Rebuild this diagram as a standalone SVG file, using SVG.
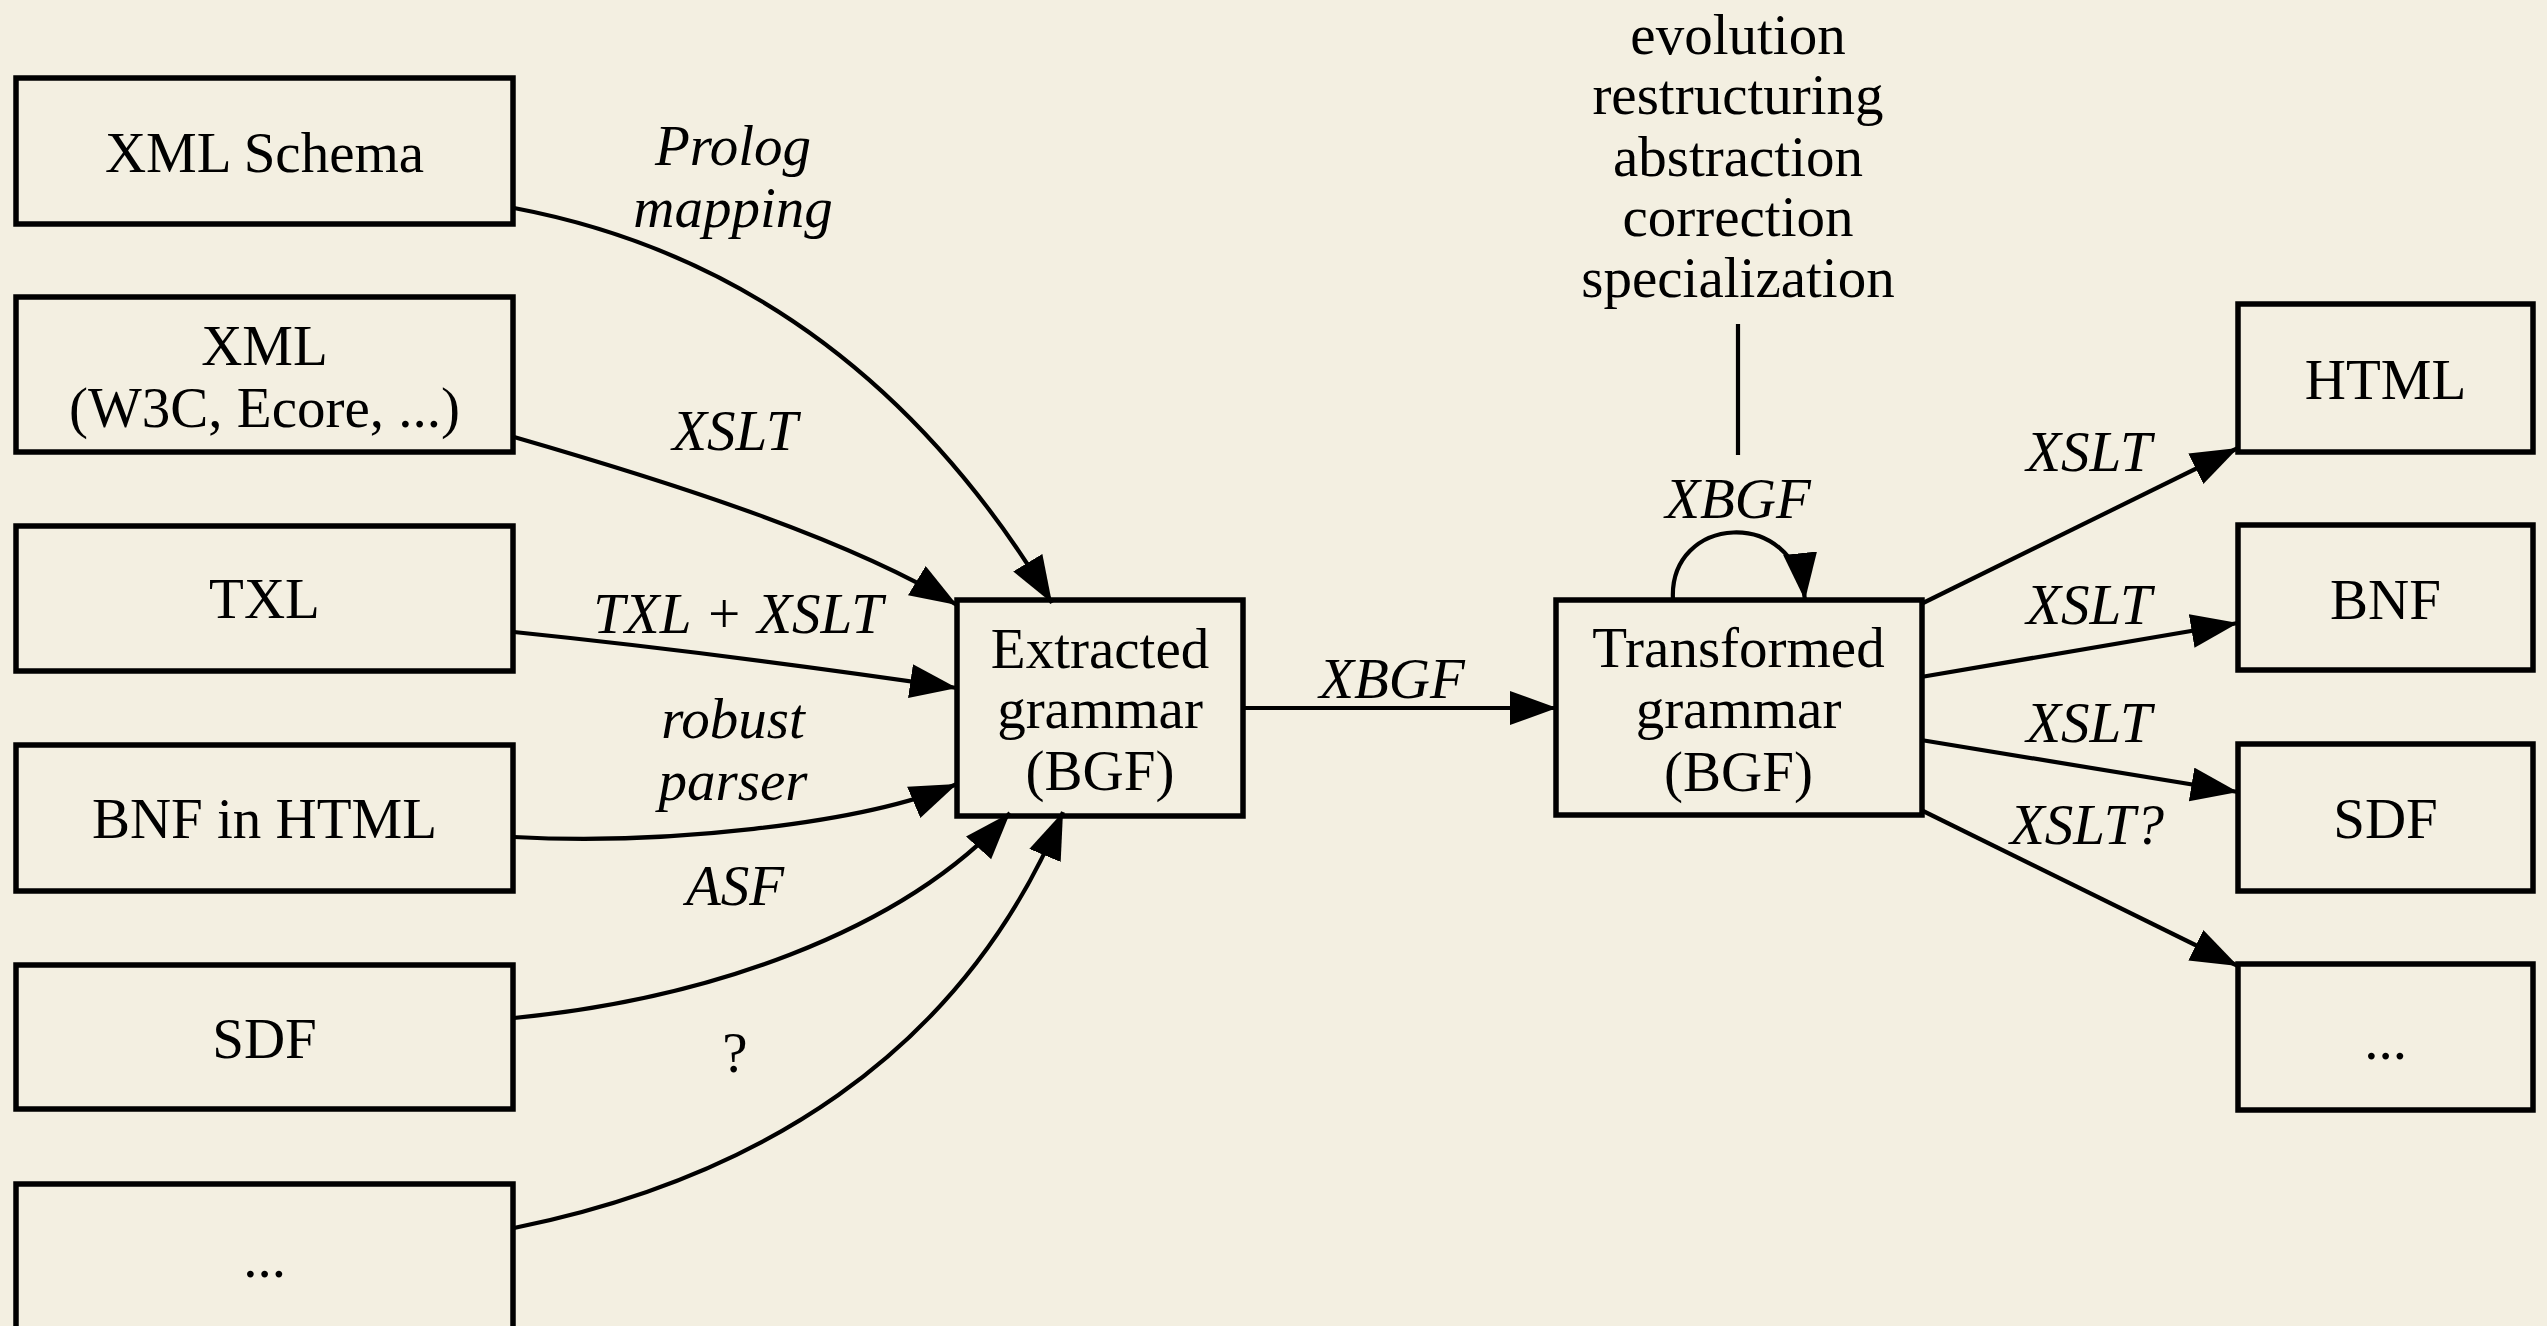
<svg xmlns="http://www.w3.org/2000/svg" width="2547" height="1326" viewBox="0 0 2547 1326">
<defs>
<marker id="arr" markerUnits="userSpaceOnUse" markerWidth="50" markerHeight="36" refX="47" refY="17" orient="auto">
<path d="M0,0 L47,17 L0,34 Z" fill="#000"/>
</marker>
<style>
.box{fill:none;stroke:#000;stroke-width:5.5}
.t{font-family:"Liberation Serif","Times New Roman",serif;font-size:57px;fill:#000;text-anchor:middle}
.i{font-style:italic}
.e{fill:none;stroke:#000;stroke-width:4.2}
</style>
</defs>
<rect x="0" y="0" width="2547" height="1326" fill="#f3efe1"/>

<g id="connectors">
<path class="e" d="M514,208 C800,262 960,450 1052,603" marker-end="url(#arr)"/>
<path class="e" d="M514,437 C680,485 850,540 957,605" marker-end="url(#arr)"/>
<path class="e" d="M514,632 C650,646 800,665 957,688" marker-end="url(#arr)"/>
<path class="e" d="M514,837 C660,845 860,825 957,784" marker-end="url(#arr)"/>
<path class="e" d="M514,1018 C700,1000 900,935 1010,813" marker-end="url(#arr)"/>
<path class="e" d="M514,1228 C750,1180 960,1060 1063,812" marker-end="url(#arr)"/>
<path class="e" d="M1243,708 L1557,708" marker-end="url(#arr)"/>
<path class="e" d="M1673,600 C1668,515 1795,505 1805,600" marker-end="url(#arr)"/>
<path class="e" d="M1738,324 L1738,455"/>
<path class="e" d="M1921,604 L2238,448" marker-end="url(#arr)"/>
<path class="e" d="M1921,677 L2238,623" marker-end="url(#arr)"/>
<path class="e" d="M1921,740 L2238,792" marker-end="url(#arr)"/>
<path class="e" d="M1921,810 L2238,966" marker-end="url(#arr)"/>
<text class="t i" x="733" y="165">Prolog</text>
<text class="t i" x="733" y="227">mapping</text>
<text class="t i" x="735" y="450">XSLT</text>
<text class="t i" x="738" y="633">TXL + XSLT</text>
<text class="t i" x="733" y="738">robust</text>
<text class="t i" x="733" y="800">parser</text>
<text class="t i" x="735" y="905">ASF</text>
<text class="t" x="735" y="1072">?</text>
<text class="t i" x="1392" y="698">XBGF</text>
<text class="t i" x="1738" y="518">XBGF</text>
<text class="t i" x="2089" y="471">XSLT</text>
<text class="t i" x="2089" y="624">XSLT</text>
<text class="t i" x="2089" y="742">XSLT</text>
<text class="t i" x="2087" y="844">XSLT?</text>
</g>

<g id="n-xmlschema"><rect class="box" x="16" y="78" width="497" height="146"/><text class="t" x="264.5" y="172">XML Schema</text></g>
<g id="n-xml"><rect class="box" x="16" y="297" width="497" height="155"/><text class="t" x="264.5" y="365">XML</text><text class="t" x="264.5" y="427">(W3C, Ecore, ...)</text></g>
<g id="n-txl"><rect class="box" x="16" y="526" width="497" height="145"/><text class="t" x="264.5" y="618">TXL</text></g>
<g id="n-bnfhtml"><rect class="box" x="16" y="745" width="497" height="146"/><text class="t" x="264.5" y="838">BNF in HTML</text></g>
<g id="n-sdf-in"><rect class="box" x="16" y="965" width="497" height="144"/><text class="t" x="264.5" y="1058">SDF</text></g>
<g id="n-more-in"><rect class="box" x="16" y="1184" width="497" height="150"/><text class="t" x="264.5" y="1277">...</text></g>

<g id="n-extracted"><rect class="box" x="957" y="600" width="286" height="216"/><text class="t" x="1100" y="668">Extracted</text><text class="t" x="1100" y="728">grammar</text><text class="t" x="1100" y="790">(BGF)</text></g>
<g id="n-transformed"><rect class="box" x="1556" y="600" width="366" height="215"/><text class="t" x="1738.5" y="667">Transformed</text><text class="t" x="1738.5" y="728">grammar</text><text class="t" x="1738.5" y="791">(BGF)</text></g>
<g id="n-ops"><text class="t" x="1738" y="54">evolution</text><text class="t" x="1738" y="114">restructuring</text><text class="t" x="1738" y="176">abstraction</text><text class="t" x="1738" y="236">correction</text><text class="t" x="1738" y="297">specialization</text></g>

<g id="n-html"><rect class="box" x="2238" y="304" width="295" height="148"/><text class="t" x="2385.5" y="399">HTML</text></g>
<g id="n-bnf"><rect class="box" x="2238" y="525" width="295" height="145"/><text class="t" x="2385.5" y="619">BNF</text></g>
<g id="n-sdf-out"><rect class="box" x="2238" y="744" width="295" height="147"/><text class="t" x="2385.5" y="838">SDF</text></g>
<g id="n-more-out"><rect class="box" x="2238" y="964" width="295" height="146"/><text class="t" x="2385.5" y="1059">...</text></g>
</svg>
